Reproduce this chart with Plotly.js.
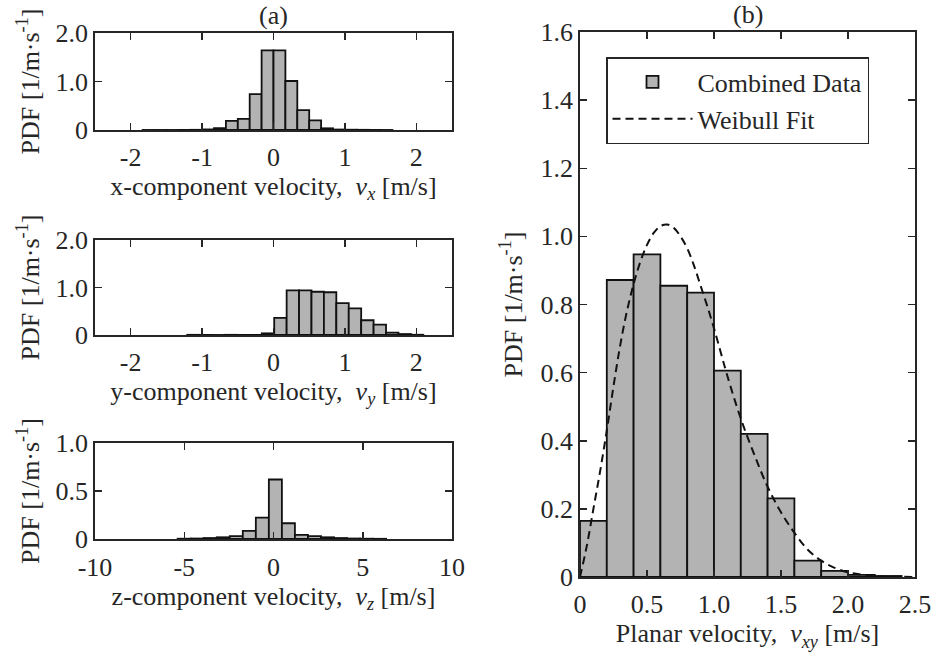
<!DOCTYPE html>
<html>
<head>
<meta charset="utf-8">
<script src="https://cdn.plot.ly/plotly-3.0.1.min.js"></script>
<style>html,body{margin:0;padding:0;background:#fff;}#chart{width:933px;height:662px;}</style>
</head>
<body>
<div id="chart"></div>
<script>
// ---- data ----
// (a) x-component: bin width 1/6
const vxCenters = [-1.75, -1.5833, -1.4167, -1.25, -1.0833, -0.9167, -0.75, -0.5833, -0.4167, -0.25, -0.0833, 0.0833, 0.25, 0.4167, 0.5833, 0.75, 0.9167, 1.0833, 1.25, 1.4167, 1.5833];
const vxPdf     = [0.001, 0.001, 0.001, 0.002, 0.004, 0.012, 0.04, 0.19, 0.23, 0.74, 1.64, 1.64, 1.01, 0.41, 0.20, 0.035, 0.01, 0.006, 0.004, 0.002, 0.001];
const vxWidth = 1/6;
// (a) y-component
const vyCenters = [-1.121, -0.947, -0.773, -0.599, -0.425, -0.251, -0.077, 0.097, 0.271, 0.445, 0.619, 0.793, 0.967, 1.141, 1.315, 1.489, 1.663, 1.837, 2.011];
const vyPdf     = [0.004, 0.002, 0.001, 0.004, 0.002, 0.002, 0.035, 0.36, 0.94, 0.94, 0.91, 0.90, 0.67, 0.56, 0.31, 0.22, 0.05, 0.02, 0.005];
const vyWidth = 0.174;
// (a) z-component
const vzCenters = [-5.005, -4.275, -3.545, -2.815, -2.085, -1.355, -0.625, 0.105, 0.835, 1.565, 2.295, 3.025, 3.755, 4.485, 5.215, 5.945];
const vzPdf     = [0.003, 0.005, 0.01, 0.018, 0.03, 0.084, 0.223, 0.62, 0.164, 0.042, 0.03, 0.018, 0.01, 0.005, 0.003, 0.002];
const vzWidth = 0.73;
// (b) planar velocity
const vxyCenters = [0.1, 0.3, 0.5, 0.7, 0.9, 1.1, 1.3, 1.5, 1.7, 1.9, 2.1, 2.3];
const vxyPdf     = [0.165, 0.872, 0.947, 0.855, 0.835, 0.606, 0.42, 0.231, 0.048, 0.018, 0.006, 0.003];
const vxyWidth = 0.2;
// Weibull fit curve
const fitX = [0, 0.05, 0.1, 0.15, 0.2, 0.25, 0.3, 0.35, 0.4, 0.45, 0.5, 0.55, 0.6, 0.65, 0.7, 0.75, 0.8, 0.85, 0.9, 0.95, 1.0, 1.05, 1.1, 1.2, 1.3, 1.4, 1.5, 1.6, 1.7, 1.8, 1.9, 2.0, 2.1, 2.2, 2.3, 2.4, 2.5];
const fitY = [0, 0.09, 0.2, 0.31, 0.43, 0.56, 0.68, 0.78, 0.86, 0.925, 0.975, 1.01, 1.03, 1.035, 1.025, 1.0, 0.965, 0.915, 0.855, 0.795, 0.73, 0.66, 0.59, 0.465, 0.36, 0.265, 0.19, 0.13, 0.08, 0.048, 0.027, 0.014, 0.007, 0.003, 0.0013, 0.0005, 0.0002];

// tick labels
const ticksA1 = [0, 1, 2],       ticksA1Text = ['0', '1.0', '2.0'];
const ticksA3 = [0, 0.5, 1],     ticksA3Text = ['0', '0.5', '1.0'];
const ticksAX = [-2, -1, 0, 1, 2], ticksAXText = ['-2', '-1', '0', '1', '2'];
const ticksAZ = [-10, -5, 0, 5, 10], ticksAZText = ['-10', '-5', '0', '5', '10'];
const ticksBY = [0, 0.2, 0.4, 0.6, 0.8, 1.0, 1.2, 1.4, 1.6];
const ticksBYText = ['0', '0.2', '0.4', '0.6', '0.8', '1.0', '1.2', '1.4', '1.6'];
const ticksBX = [0, 0.5, 1.0, 1.5, 2.0, 2.5];
const ticksBXText = ['0', '0.5', '1.0', '1.5', '2.0', '2.5'];

// ---- styling ----
const FONT = 'Liberation Serif, Times New Roman, serif';
const INK = '#262626';
const BARFILL = '#b3b3b3';
const FS = 26;
const pdfTitle = 'PDF [1/m·s<sup>-1</sup>]';

function bar(x, y, w, xa, ya, name, show) {
  return {
    type: 'bar', x: x, y: y, width: x.map(() => w),
    xaxis: xa, yaxis: ya, name: name, showlegend: !!show,
    marker: {color: BARFILL, line: {color: '#111', width: 1.8}},
    hoverinfo: 'x+y'
  };
}

const traces = [
  bar(vxCenters, vxPdf, vxWidth, 'x', 'y', 'vx'),
  bar(vyCenters, vyPdf, vyWidth, 'x2', 'y2', 'vy'),
  bar(vzCenters, vzPdf, vzWidth, 'x3', 'y3', 'vz'),
  bar(vxyCenters, vxyPdf, vxyWidth, 'x4', 'y4', 'Combined Data', true),
  {
    type: 'scatter', mode: 'lines', x: fitX, y: fitY, xaxis: 'x4', yaxis: 'y4',
    name: 'Weibull Fit', line: {color: '#111', width: 2, dash: '8px,5px', shape: 'spline'}
  }
];

function axis(extra) {
  return Object.assign({
    showline: true, linecolor: INK, linewidth: 1.8, mirror: 'ticks',
    ticks: 'inside', ticklen: 7, tickwidth: 1.5, tickcolor: INK,
    showgrid: false, zeroline: false, fixedrange: true,
    tickfont: {family: FONT, size: FS, color: INK},
    tickmode: 'array', automargin: false
  }, extra);
}
function ttl(text, standoff) {
  return {text: text, font: {family: FONT, size: FS, color: INK}, standoff: standoff};
}

const xdomA = [95/933, 452/933];
const xdomB = [580/933, 915/933];

const layout = {
  width: 933, height: 662,
  margin: {l: 0, r: 0, t: 0, b: 0},
  paper_bgcolor: '#fff', plot_bgcolor: '#fff',
  font: {family: FONT, color: INK, size: FS},
  bargap: 0,
  showlegend: true,
  legend: {
    x: 606/933, y: 1 - 57/662, xanchor: 'left', yanchor: 'top',
    bgcolor: '#fff', bordercolor: INK, borderwidth: 1.5,
    font: {family: FONT, size: FS, color: INK},
    itemwidth: 80, tracegroupgap: 0
  },
  xaxis: axis({domain: xdomA, anchor: 'y', range: [-2.5, 2.5], tickvals: ticksAX, ticktext: ticksAXText, ticklabelstandoff: 3,
    title: ttl('x-component velocity,  <i>ν</i><sub><i>x</i></sub> [m/s]', 4)}),
  yaxis: axis({domain: [1 - 130/662, 1 - 33/662], anchor: 'x', range: [0, 2], tickvals: ticksA1, ticktext: ticksA1Text,
    title: ttl(pdfTitle, 8)}),
  xaxis2: axis({domain: xdomA, anchor: 'y2', range: [-2.5, 2.5], tickvals: ticksAX, ticktext: ticksAXText, ticklabelstandoff: 3,
    title: ttl('y-component velocity,  <i>ν</i><sub><i>y</i></sub> [m/s]', 4)}),
  yaxis2: axis({domain: [1 - 335/662, 1 - 240/662], anchor: 'x2', range: [0, 2], tickvals: ticksA1, ticktext: ticksA1Text,
    title: ttl(pdfTitle, 8)}),
  xaxis3: axis({domain: xdomA, anchor: 'y3', range: [-10, 10], tickvals: ticksAZ, ticktext: ticksAZText, ticklabelstandoff: 4,
    title: ttl('z-component velocity,  <i>ν</i><sub><i>z</i></sub> [m/s]', 3)}),
  yaxis3: axis({domain: [1 - 539/662, 1 - 443/662], anchor: 'x3', range: [0, 1], tickvals: ticksA3, ticktext: ticksA3Text,
    title: ttl(pdfTitle, 8)}),
  xaxis4: axis({domain: xdomB, anchor: 'y4', range: [0, 2.5], tickvals: ticksBX, ticktext: ticksBXText, ticklabelstandoff: 3,
    title: ttl('Planar velocity,  <i>ν</i><sub><i>xy</i></sub> [m/s]', 6)}),
  yaxis4: axis({domain: [1 - 577/662, 1 - 32/662], anchor: 'x4', range: [0, 1.6], tickvals: ticksBY, ticktext: ticksBYText,
    title: ttl(pdfTitle, 10)}),
  annotations: [
    {text: '(a)', xref: 'paper', yref: 'paper', x: (95 + 452) / 2 / 933, y: 1 - 32/662, xanchor: 'center', yanchor: 'bottom', showarrow: false, font: {family: FONT, size: FS, color: INK}},
    {text: '(b)', xref: 'paper', yref: 'paper', x: (580 + 915) / 2 / 933, y: 1 - 31/662, xanchor: 'center', yanchor: 'bottom', showarrow: false, font: {family: FONT, size: FS, color: INK}}
  ]
};

Plotly.newPlot('chart', traces, layout, {staticPlot: true, displayModeBar: false});
</script>
</body>
</html>
